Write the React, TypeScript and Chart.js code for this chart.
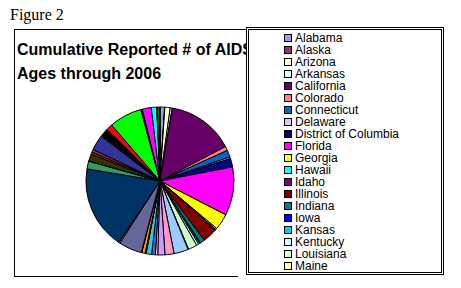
import { useEffect, useRef } from "react";
import { Chart, registerables } from "chart.js";

Chart.register(...registerables);

const figureLabel = "Figure 2";
const titleLines = ["Cumulative Reported # of AIDS", "Ages through 2006"];

const states = [
  "Alabama", "Alaska", "Arizona", "Arkansas", "California", "Colorado", "Connecticut", "Delaware",
  "District of Columbia", "Florida", "Georgia", "Hawaii", "Idaho", "Illinois", "Indiana", "Iowa",
  "Kansas", "Kentucky", "Louisiana", "Maine", "Maryland", "Massachusetts", "Michigan", "Minnesota",
  "Mississippi", "Missouri", "Montana", "Nebraska", "Nevada", "New Hampshire", "New Jersey",
  "New Mexico", "New York", "North Carolina", "North Dakota", "Ohio", "Oklahoma", "Oregon",
  "Pennsylvania", "Rhode Island", "South Carolina", "South Dakota", "Tennessee", "Texas", "Utah",
  "Vermont", "Virginia", "Washington", "West Virginia", "Wisconsin", "Wyoming",
];

const cases = [
  9800, 660, 11500, 4300, 145000, 9000, 15000, 3600,
  18500, 105000, 35000, 3000, 640, 33000, 9600, 1900,
  3000, 4900, 19000, 1300, 31000, 19500, 15500, 5100,
  8000, 12000, 400, 1700, 7200, 1100, 50000,
  2900, 180000, 17000, 150, 15500, 5000, 5700,
  33500, 2700, 15500, 280, 14000, 71000, 2600,
  500, 19500, 11500, 1600, 5300, 220,
];

const sliceColors = [
  "#9999FF", "#993366", "#FFFFCC", "#CCFFFF", "#660066", "#FF8080", "#0066CC", "#CCCCFF",
  "#000080", "#FF00FF", "#FFFF00", "#00FFFF", "#800080", "#800000", "#008080", "#0000FF",
  "#00CCFF", "#CCFFFF", "#CCFFCC", "#FFFF99", "#99CCFF", "#FF99CC", "#CC99FF", "#FFCC99",
  "#3366FF", "#33CCCC", "#99CC00", "#FFCC00", "#FF9900", "#FF6600", "#666699",
  "#969696", "#003366", "#339966", "#003300", "#333300", "#993300", "#993366",
  "#333399", "#333333", "#000000", "#FFFFFF", "#FF0000", "#00FF00", "#0000FF",
  "#FFFF00", "#FF00FF", "#00FFFF", "#800000", "#008000", "#000080",
];

// the legend box in the reference only has room for the first 20 entries
const visibleLegendCount = 20;

export default function App() {
  const ref = useRef<HTMLCanvasElement>(null);

  useEffect(() => {
    if (!ref.current) return;
    const chart = new Chart(ref.current, {
      type: "pie",
      data: {
        labels: states,
        datasets: [
          {
            data: cases,
            backgroundColor: sliceColors,
            borderColor: "#000000",
            borderWidth: 1,
            radius: 74,
          } as any,
        ],
      },
      options: {
        responsive: false,
        animation: false,
        events: [],
        layout: { padding: 0 },
        plugins: {
          legend: { display: false },
          tooltip: { enabled: false },
          title: { display: false },
        },
      },
    });
    return () => chart.destroy();
  }, []);

  const sans = "'Liberation Sans', Arial, sans-serif";

  return (
    <div
      style={{
        position: "fixed",
        left: 0,
        top: 0,
        width: 461,
        height: 288,
        background: "#fff",
        overflow: "hidden",
      }}
    >
      <div
        style={{
          position: "absolute",
          left: 10,
          top: 6.6,
          font: "16px 'Liberation Serif', 'Times New Roman', serif",
          lineHeight: "16px",
          whiteSpace: "nowrap",
          color: "#000",
        }}
      >
        {figureLabel}
      </div>

      {/* chart frame */}
      <div style={{ position: "absolute", left: 14, top: 29, width: 1, height: 248, background: "#000" }} />
      <div style={{ position: "absolute", left: 14, top: 29, width: 428, height: 1, background: "#000" }} />
      <div style={{ position: "absolute", left: 14, top: 276, width: 224, height: 1, background: "#000" }} />

      {/* title, clipped where the legend box begins */}
      <div
        style={{
          position: "absolute",
          left: 17,
          top: 38,
          width: 229,
          height: 50,
          overflow: "hidden",
        }}
      >
        {titleLines.map((t, i) => (
          <div
            key={i}
            style={{
              position: "absolute",
              left: 0,
              top: 3.5 + i * 24,
              font: `bold 16px ${sans}`,
              lineHeight: "16px",
              whiteSpace: "nowrap",
              color: "#000",
            }}
          >
            {t}
          </div>
        ))}
      </div>

      <canvas
        ref={ref}
        width={160}
        height={160}
        style={{ position: "absolute", left: 80, top: 101, width: 160, height: 160 }}
      />

      {/* legend */}
      <div
        style={{
          position: "absolute",
          left: 246,
          top: 27,
          width: 198,
          height: 248,
          boxSizing: "border-box",
          border: "3px double #000",
          background: "#fff",
          overflow: "hidden",
        }}
      >
        {states.slice(0, visibleLegendCount).map((s, i) => (
          <div key={s} style={{ position: "absolute", left: 0, top: 2 + i * 12, height: 12, width: 190 }}>
            <div
              style={{
                position: "absolute",
                left: 35,
                top: 2,
                width: 8,
                height: 8,
                boxSizing: "border-box",
                border: "1px solid #000",
                background: sliceColors[i],
              }}
            />
            <div
              style={{
                position: "absolute",
                left: 46,
                top: 0,
                font: `12px ${sans}`,
                lineHeight: "12px",
                whiteSpace: "nowrap",
                color: "#000",
              }}
            >
              {s}
            </div>
          </div>
        ))}
      </div>
    </div>
  );
}
